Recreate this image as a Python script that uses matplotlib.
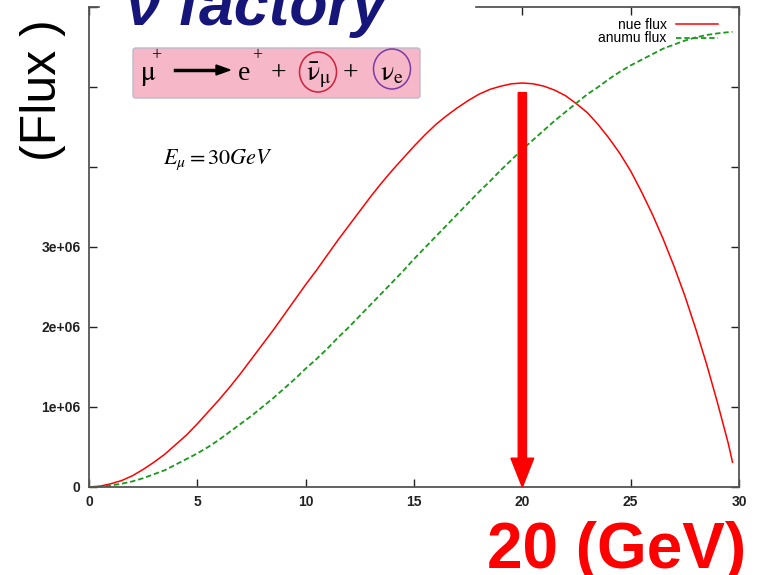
import matplotlib
matplotlib.use("Agg")
import matplotlib.pyplot as plt
from matplotlib.patches import Rectangle, FancyBboxPatch, Ellipse

# neutrino energy (GeV) and fluxes (units of 1e6)
energy = [0, 0.5, 1, 1.5, 2, 2.5, 3, 3.5, 4, 4.5, 5, 5.5, 6, 6.5, 7, 7.5, 8, 8.5,
          9, 9.5, 10, 10.5, 11, 11.5, 12, 12.5, 13, 13.5, 14, 14.5, 15, 15.5,
          16, 16.5, 17, 17.5, 18, 18.5, 19, 19.5, 20, 20.5, 21, 21.5, 22, 22.5,
          23, 23.5, 24, 24.5, 25, 25.5, 26, 26.5, 27, 27.5, 28, 28.5, 29, 29.5,
          29.7]
nue_flux = [0.0, 0.01, 0.04, 0.08, 0.14, 0.22, 0.31, 0.41, 0.53, 0.65, 0.79,
            0.94, 1.09, 1.25, 1.42, 1.60, 1.78, 1.96, 2.15, 2.34, 2.53, 2.71,
            2.90, 3.09, 3.27, 3.45, 3.63, 3.80, 3.96, 4.11, 4.26, 4.40, 4.53,
            4.64, 4.74, 4.83, 4.91, 4.97, 5.01, 5.04, 5.05, 5.04, 5.01, 4.96,
            4.89, 4.79, 4.68, 4.53, 4.36, 4.17, 3.95, 3.69, 3.41, 3.10, 2.76,
            2.39, 1.98, 1.54, 1.06, 0.55, 0.31]
anumu_flux = [0.0, 0.005, 0.02, 0.04, 0.07, 0.11, 0.16, 0.21, 0.28, 0.35, 0.42,
              0.50, 0.59, 0.69, 0.79, 0.89, 1.00, 1.11, 1.23, 1.35, 1.48, 1.60,
              1.73, 1.87, 2.00, 2.14, 2.28, 2.42, 2.56, 2.70, 2.85, 2.99, 3.13,
              3.27, 3.41, 3.55, 3.69, 3.82, 3.96, 4.09, 4.22, 4.34, 4.46, 4.58,
              4.69, 4.80, 4.91, 5.00, 5.10, 5.19, 5.27, 5.34, 5.41, 5.48, 5.53,
              5.58, 5.62, 5.65, 5.67, 5.685, 5.69]

xticks = [0, 5, 10, 15, 20, 25, 30]
yticks = [0, 1, 2, 3, 4, 5, 6]
ytick_labels = ["0", "1e+06", "2e+06", "3e+06", "", "", ""]

peak_energy = 20          # GeV, where the nue flux peaks
arrow_top = 4.93

W, H = 757, 575
plt.rcParams["font.family"] = ["Liberation Sans", "DejaVu Sans"]
plt.rcParams["mathtext.fontset"] = "stix"

fig = plt.figure(figsize=(W / 100, H / 100), dpi=100)
ax = fig.add_axes([89 / W, 1 - 487 / H, 650 / W, 480 / H])


def fx(px):
    return px / W


def fy(py):
    return 1 - py / H


ax.plot(energy, nue_flux, color="#ff0000", lw=1.1, label="nue flux")
ax.plot(energy, anumu_flux, color="#1a9a1a", lw=1.3, ls=(0, (3, 1.6)),
        label="anumu flux")

ax.set_xlim(0, 30)
ax.set_ylim(0, 6)
ax.set_xticks(xticks)
ax.set_yticks(yticks)
ax.set_yticklabels(ytick_labels)
ax.tick_params(direction="in", length=6, width=1, top=True, right=True,
               labelsize=10, colors="#222222", pad=6)
for lbl in ax.get_xticklabels() + ax.get_yticklabels():
    lbl.set_fontweight("bold")
for s in ax.spines.values():
    s.set_color("#555555")
    s.set_linewidth(1.3)

leg = ax.legend(loc="upper right", bbox_to_anchor=(1 - 10 / 650, 1),
                frameon=False, fontsize=10, markerfirst=False,
                handlelength=3.0, borderaxespad=0.6, labelspacing=-0.05,
                handletextpad=0.7, borderpad=0.2)

# arrow marking the peak energy
ax.arrow(peak_energy, arrow_top, 0, -arrow_top, width=0.38, head_width=1.05,
         head_length=0.36, length_includes_head=True, color="#ff0000",
         zorder=5)

# white strip hiding the upper frame behind the title
fig.add_artist(Rectangle((fx(100), fy(15)), fx(474) - fx(100), fy(0) - fy(15),
                         transform=fig.transFigure, color="white", zorder=1))

fig.text(fx(126), fy(25), "ν factory", fontsize=45, fontweight="bold",
         fontstyle="italic", color="#15157a", va="baseline", ha="left",
         zorder=3)

# decay formula panel
fig.add_artist(FancyBboxPatch((fx(133), fy(98)), fx(420) - fx(133),
                              fy(48) - fy(98),
                              boxstyle="round,pad=0,rounding_size=0.004",
                              transform=fig.transFigure, facecolor="#f6b8c8",
                              edgecolor="#b9b9c9", lw=1.0, zorder=2))
serif = dict(fontsize=20, color="black", va="baseline", zorder=3,
             family="Liberation Serif")
fig.text(fx(140), fy(80), r"$\mathrm{\mu}$", **serif)
fig.text(fx(151), fy(60), "+", fontsize=13, va="baseline", zorder=3,
         family="Liberation Serif")
fig.add_artist(plt.Line2D([fx(175), fx(218)], [fy(70), fy(70)],
                          transform=fig.transFigure, color="black", lw=2.5,
                          zorder=3))
fig.add_artist(plt.Polygon([[fx(216), fy(65)], [fx(230), fy(70)],
                            [fx(216), fy(75)]], closed=True,
                           transform=fig.transFigure, color="black", zorder=3))
fig.text(fx(238), fy(80), "e", **serif)
fig.text(fx(252), fy(60), "+", fontsize=13, va="baseline", zorder=3,
         family="Liberation Serif")
fig.text(fx(271), fy(80), "+", **serif)
fig.text(fx(306), fy(80), r"$\bar{\mathrm{\nu}}_{\mathrm{\mu}}$", **serif)
fig.text(fx(343), fy(80), "+", **serif)
fig.text(fx(380), fy(80), r"$\mathrm{\nu}_{\mathrm{e}}$", **serif)
fig.add_artist(Ellipse((fx(318), fy(72)), fx(37), 40 / H,
                       transform=fig.transFigure, fill=False,
                       edgecolor="#d0203a", lw=1.1, zorder=3))
fig.add_artist(Ellipse((fx(392), fy(69)), fx(37), 40 / H,
                       transform=fig.transFigure, fill=False,
                       edgecolor="#7a3aa8", lw=1.1, zorder=3))

fig.text(fx(163), fy(164), r"$E_{\mu} = 30GeV$", fontsize=16, va="baseline",
         zorder=3)

fig.text(fx(43), fy(90), "(Flux )", fontsize=36, rotation=90, ha="center",
         va="center", color="black", zorder=3)

fig.text(fx(746), fy(568), f"{peak_energy} (GeV)", fontsize=46,
         fontweight="bold", color="#ff0000", ha="right", va="baseline",
         zorder=3)

fig.savefig("out.png", dpi=100)
